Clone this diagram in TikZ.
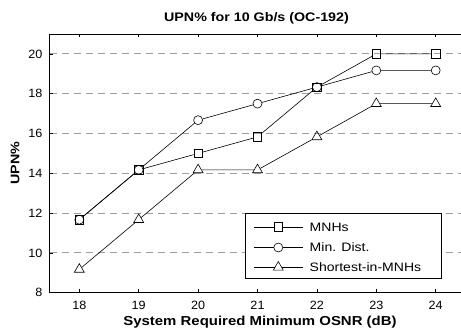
\documentclass[tikz,border=0pt]{standalone}
\usepackage{fontspec}
\setmainfont{Liberation Sans}
\newfontfamily\wfont[FakeStretch=1.15, BoldFeatures={FakeStretch=1.15}]{Liberation Sans}
\newfontfamily\tfont[FakeStretch=1.05]{Liberation Sans}
\usetikzlibrary{shapes.geometric}
\begin{document}
\begin{tikzpicture}[x=1pt,y=1pt,
  lbl/.style={font=\tfont\fontsize{12}{14}\selectfont, inner sep=0pt},
  legtxt/.style={font=\wfont\fontsize{12.2}{14}\selectfont, inner sep=0pt},
  bl/.style={font=\wfont\bfseries\fontsize{12.4}{14}\selectfont, inner sep=0pt},
  xbl/.style={font=\wfont\bfseries\fontsize{13}{15}\selectfont, inner sep=0pt},
  sq/.style={draw, rectangle, minimum size=8.5pt, inner sep=0pt, line width=0.6pt},
  ci/.style={draw, circle, minimum size=9pt, inner sep=0pt, line width=0.6pt},
  tri/.style={draw, regular polygon, regular polygon sides=3, minimum size=11.5pt, inner sep=0pt, line width=0.6pt},
  dataline/.style={line width=0.6pt},
  gridline/.style={gray!75, line width=0.8pt, dash pattern=on 7pt off 5pt},
  tickline/.style={line width=0.6pt},
  legbox/.style={draw, fill=white, line width=0.7pt}
]
\useasboundingbox (0,0) rectangle (461,335);
\fill[white] (0,0) rectangle (461,335);
\clip (0,0) rectangle (461,335);

\begin{scope}[shift={(-989.9pt,-116.9pt)}, x=59.4pt, y=19.9pt]
  % gridlines
  \foreach \v in {10,12,...,20} \draw[gridline] (17.5,\v) -- (24.5,\v);
  % axes
  \draw[line width=0.6pt] (17.5,21) -- (24.5,21);
  \draw[line width=1.5pt] (17.5,8) -- (24.5,8);
  \draw[line width=1.5pt] (17.5,7.96) -- (17.5,21.02);
  \draw[line width=0.6pt] (24.5,8) -- (24.5,21);
  % ticks
  \foreach \v in {18,...,24} {
    \draw[tickline] (\v,8) -- ++(0,3.5pt);
    \draw[tickline] (\v,21) -- ++(0,-3.5pt);
    \node[lbl] (xl\v) at (\v,8) [yshift=-12.5pt] {\v};
  }
  \foreach \v in {8,10,...,20} {
    \draw[tickline] (17.5,\v) -- ++(3.5pt,0);
    \node[lbl, anchor=east] (yl\v) at (17.5,\v) [xshift=-7pt] {\v};
  }
  % data: MNHs
  \foreach \a/\b in {18/11.67,19/14.17,20/15.0,21/15.83,22/18.33,23/20,24/20}
    \node[sq] (s\a) at (\a,\b) {};
  % Min. Dist.
  \foreach \a/\b in {18/11.67,19/14.17,20/16.67,21/17.5,22/18.33,23/19.17,24/19.17}
    \node[ci] (c\a) at (\a,\b) {};
  % Shortest-in-MNHs
  \foreach \a/\b in {18/9.17,19/11.67,20/14.17,21/14.17,22/15.83,23/17.5,24/17.5}
    \node[tri] (t\a) at (\a,\b) {};
  \draw[dataline] (s18) -- (s19) -- (s20) -- (s21) -- (s22) -- (s23) -- (s24);
  \draw[dataline] (c18) -- (c19) -- (c20) -- (c21) -- (c22) -- (c23) -- (c24);
  \draw[dataline] (t18) -- (t19) -- (t20) -- (t21) -- (t22) -- (t23) -- (t24);
\end{scope}

% labels
\node[bl] (title) at (256.5,316.5) {UPN\% for 10 Gb/s (OC-192)};
\node[xbl] (xlab) at (260,12.5) {System Required Minimum OSNR (dB)};
\node[bl, rotate=90] (ylab) at (15,171.7) {UPN\%};

% legend
\node[legbox, minimum width=196.6pt, minimum height=65.7pt, inner sep=0pt, anchor=south west] (leg) at (244.7,56) {};
\coordinate (la1) at (254,108); \coordinate (lb1) at (302.7,108);
\coordinate (la2) at (254,87.5); \coordinate (lb2) at (302.7,87.5);
\coordinate (la3) at (254,67.7); \coordinate (lb3) at (302.7,67.7);
\node[sq] (lm1) at (278.3,108) {};
\node[ci] (lm2) at (278.3,87.5) {};
\node[tri] (lm3) at (278.3,67.7) {};
\draw[dataline] (la1) -- (lm1) -- (lb1);
\draw[dataline] (la2) -- (lm2) -- (lb2);
\draw[dataline] (la3) -- (lm3) -- (lb3);
\node[legtxt, anchor=west] (lt1) at (309.5,108) {MNHs};
\node[legtxt, anchor=west] (lt2) at (309.5,87.5) {Min. Dist.};
\node[legtxt, anchor=west] (lt3) at (309.5,67.7) {Shortest-in-MNHs};
\end{tikzpicture}
\end{document}
